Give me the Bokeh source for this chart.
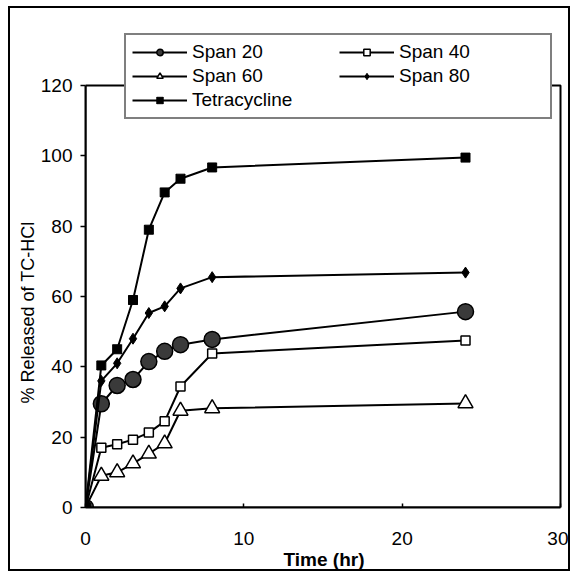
from bokeh.plotting import figure
from bokeh.models import Legend, LegendItem, Range1d, FixedTicker, BoxAnnotation, Title
from bokeh.embed import file_html
from bokeh.resources import INLINE

time = [0, 1, 2, 3, 4, 5, 6, 8, 24]
span20 = [0, 29.5, 34.7, 36.4, 41.5, 44.4, 46.3, 47.8, 55.7]
span40 = [0, 17.0, 18.0, 19.3, 21.3, 24.5, 34.4, 43.8, 47.5]
span60 = [0, 9.0, 10.0, 12.5, 15.3, 18.2, 27.5, 28.2, 29.6]
span80 = [0, 36.0, 41.0, 48.0, 55.3, 57.2, 62.3, 65.5, 66.8]
tetra = [0, 40.4, 45.0, 59.0, 79.0, 89.6, 93.5, 96.7, 99.5]
x_ticks = [0, 10, 20, 30]
y_ticks = [0, 20, 40, 60, 80, 100, 120]
X_MAX, Y_MAX = 30, 120

FONT = "Liberation Sans"

p = figure(width=562, height=565, output_backend="svg", toolbar_location=None,
           x_range=Range1d(0, 30.126), y_range=Range1d(0, 135.36),
           min_border_left=75, min_border_right=10, min_border_top=23, min_border_bottom=66)
p.styles = {"border": "2px solid black", "margin": "6px 0px 0px 8px"}
p.grid.visible = False
p.outline_line_color = None

for ax in (p.xaxis[0], p.yaxis[0]):
    ax.axis_line_color = "black"
    ax.axis_line_width = 2
    ax.major_tick_line_color = "black"
    ax.major_tick_line_width = 1.5
    ax.minor_tick_line_color = None
    ax.major_label_text_font = FONT
    ax.major_label_text_font_size = "19px"
    ax.major_label_text_color = "black"
    ax.axis_label_text_font = FONT
    ax.axis_label_text_color = "black"

p.xaxis.ticker = FixedTicker(ticks=x_ticks)
p.yaxis.ticker = FixedTicker(ticks=y_ticks)
p.xaxis.bounds = (0, X_MAX)
p.yaxis.bounds = (0, Y_MAX)
p.xaxis.major_tick_in = 4
p.xaxis.major_tick_out = 0
p.xaxis.major_label_standoff = 24
p.yaxis.major_tick_in = 0
p.yaxis.major_tick_out = 5
p.yaxis.major_label_standoff = 8

p.xaxis.axis_label = "Time (hr)"
p.xaxis.axis_label_text_font_style = "bold"
p.xaxis.axis_label_text_font_size = "19px"
p.xaxis.axis_label_standoff = 1

ytitle = Title(text="% Released of TC-HCl", align="left", offset=104,
               text_font=FONT, text_font_size="18px", text_font_style="normal",
               text_color="black", standoff=0)
p.add_layout(ytitle, "left")

# plot-area box (top and right edges)
p.add_layout(BoxAnnotation(left=0, right=X_MAX, bottom=0, top=Y_MAX,
                           fill_alpha=0, line_color="black", line_alpha=1, line_width=2))

lw = 2
l20 = p.line(time, span20, line_color="black", line_width=lw)
m20 = p.scatter(time, span20, marker="circle", size=16, fill_color="#3a3a3a", line_color="black", line_width=1.5)
l40 = p.line(time, span40, line_color="black", line_width=lw)
m40 = p.scatter(time, span40, marker="square", size=9, fill_color="white", line_color="black", line_width=1.5)
l60 = p.line(time, span60, line_color="black", line_width=lw)
m60 = p.scatter(time, span60, marker="triangle", size=15, fill_color="white", line_color="black", line_width=1.5)
l80 = p.line(time, span80, line_color="black", line_width=lw)
m80 = p.scatter(time, span80, marker="diamond", size=11, fill_color="black", line_color="black", line_width=1)
lt = p.line(time, tetra, line_color="black", line_width=lw)
mt = p.scatter(time, tetra, marker="square_x", size=9, fill_color="black", line_color="black", line_width=1)

# column-major fill: col 1 = Span 20, Span 60, Tetracycline; col 2 = Span 40, Span 80
items = [
    LegendItem(label="Span 20", renderers=[l20, m20]),
    LegendItem(label="Span 60", renderers=[l60, m60]),
    LegendItem(label="Tetracycline", renderers=[lt, mt]),
    LegendItem(label="Span 40", renderers=[l40, m40]),
    LegendItem(label="Span 80", renderers=[l80, m80]),
]
legend = Legend(items=items, location=(39, 388), nrows=3,
                glyph_width=55, glyph_height=16, label_standoff=5,
                label_width=145, label_height=22, spacing=2, padding=6, margin=0,
                label_text_font=FONT, label_text_font_size="19px", label_text_color="black",
                border_line_color="black", border_line_width=2,
                background_fill_color="white", background_fill_alpha=1)
p.add_layout(legend)

open("out.html", "w").write(file_html(p, INLINE))
